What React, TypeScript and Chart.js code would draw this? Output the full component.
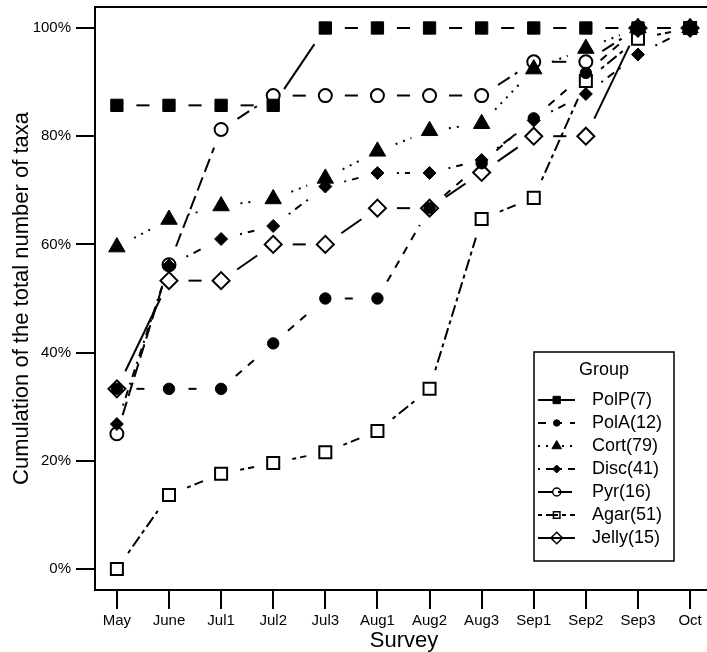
import React, { useEffect, useRef } from 'react';
import { Chart, registerables } from 'chart.js';
import { drawPoint } from 'chart.js/helpers';

Chart.register(...registerables);

// ---------- data ----------
const categories = ['May', 'June', 'Jul1', 'Jul2', 'Jul3', 'Aug1', 'Aug2', 'Aug3', 'Sep1', 'Sep2', 'Sep3', 'Oct'];
const seriesLabels = ['PolP(7)', 'PolA(12)', 'Cort(79)', 'Disc(41)', 'Pyr(16)', 'Agar(51)', 'Jelly(15)'];

const polP = [85.7, 85.7, 85.7, 85.7, 100, 100, 100, 100, 100, 100, 100, 100];
const polA = [33.3, 33.3, 33.3, 41.7, 50, 50, 66.7, 75, 83.3, 91.7, 100, 100];
const cort = [59.5, 64.6, 67.1, 68.4, 72.2, 77.2, 81.0, 82.3, 92.4, 96.2, 100, 100];
const disc = [26.8, 56.1, 61.0, 63.4, 70.7, 73.2, 73.2, 75.6, 82.9, 87.8, 95.1, 100];
const pyr = [25, 56.25, 81.25, 87.5, 87.5, 87.5, 87.5, 87.5, 93.75, 93.75, 100, 100];
const agar = [0, 13.7, 17.6, 19.6, 21.6, 25.5, 33.3, 64.7, 68.6, 90.2, 98.0, 100];
const jelly = [33.3, 53.3, 53.3, 60, 60, 66.7, 66.7, 73.3, 80, 80, 100, 100];

const yTickValues = [0, 20, 40, 60, 80, 100];
const yTickLabels = ['0%', '20%', '40%', '60%', '80%', '100%'];

const xTitle = 'Survey';
const yTitle = 'Cumulation of the total number of taxa';
const legendTitle = 'Group';

// ---------- styles ----------
const FONT = "'Liberation Sans', Arial, Helvetica, sans-serif";
const U = 2;
const DASH: Record<string, number[]> = {
  solid: [],
  dashed: [4 * U, 4 * U],
  dotted: [1 * U, 3 * U],
  dotdash: [1 * U, 3 * U, 4 * U, 3 * U],
  longdash: [7 * U, 3 * U],
  twodash: [2 * U, 2 * U, 6 * U, 2 * U],
};
const GAP = 19.5;

const seriesValues = [polP, polA, cort, disc, pyr, agar, jelly];
const seriesStyle = [
  { dash: DASH.solid, pointStyle: 'rect', radius: 8.7, filled: true, lr: 5.2 },
  { dash: DASH.dashed, pointStyle: 'circle', radius: 5.7, filled: true, lr: 3.2 },
  { dash: DASH.dotted, pointStyle: 'triangle', radius: 9.5, filled: true, lr: 5.5 },
  { dash: DASH.dotdash, pointStyle: 'rectRot', radius: 6.5, filled: true, lr: 4.0 },
  { dash: DASH.longdash, pointStyle: 'circle', radius: 6.5, filled: false, lr: 4.0 },
  { dash: DASH.twodash, pointStyle: 'rect', radius: 8.5, filled: false, lr: 4.6 },
  { dash: DASH.solid, pointStyle: 'rectRot', radius: 8.5, filled: false, lr: 5.8 },
];

// dash array for one segment: gap at both ends (like R type="b"), pattern in between
function gappedDash(pattern: number[], len: number): number[] {
  const avail = len - 2 * GAP;
  if (!(len > 0)) return [0, 1];
  if (avail <= 0) return [0, len];
  const out = [0, GAP];
  if (pattern.length === 0) {
    out.push(avail, GAP);
    return out;
  }
  let pos = 0;
  let i = 0;
  while (pos < avail - 1e-9) {
    const seg = Math.min(pattern[i % pattern.length], avail - pos);
    out.push(seg);
    pos += seg;
    i++;
  }
  if (i % 2 === 1) out.push(GAP);
  else out[out.length - 1] += GAP;
  return out;
}

const framePlugin = {
  id: 'rframe',
  afterDraw(chart: any) {
    const { ctx, chartArea: a } = chart;
    ctx.save();
    ctx.setLineDash([]);
    ctx.strokeStyle = '#000';
    ctx.lineWidth = 2;
    ctx.strokeRect(a.left, a.top, a.right - a.left, a.bottom - a.top);
    ctx.restore();
  },
};

const legendPlugin = {
  id: 'rlegend',
  afterDraw(chart: any) {
    const ctx = chart.ctx;
    const bx = 534, by = 352, bw = 140, bh = 209;
    ctx.save();
    ctx.fillStyle = '#fff';
    ctx.fillRect(bx, by, bw, bh);
    ctx.setLineDash([]);
    ctx.strokeStyle = '#000';
    ctx.lineWidth = 1.5;
    ctx.strokeRect(bx, by, bw, bh);
    ctx.fillStyle = '#000';
    ctx.font = `18px ${FONT}`;
    ctx.textBaseline = 'middle';
    ctx.textAlign = 'center';
    ctx.fillText(legendTitle, bx + bw / 2, 370);
    ctx.textAlign = 'left';
    seriesLabels.forEach((label, i) => {
      const s = seriesStyle[i];
      const y = 400 + i * 23;
      ctx.strokeStyle = '#000';
      ctx.lineWidth = 2;
      ctx.setLineDash(s.dash);
      ctx.beginPath();
      ctx.moveTo(538, y);
      ctx.lineTo(575, y);
      ctx.stroke();
      ctx.setLineDash([]);
      ctx.fillStyle = s.filled ? '#000' : 'rgba(0,0,0,0)';
      ctx.lineWidth = s.filled ? 1 : 1.5;
      drawPoint(ctx, { pointStyle: s.pointStyle, radius: s.lr, rotation: 0, borderWidth: ctx.lineWidth } as any, 556.7, y);
      ctx.fillStyle = '#000';
      ctx.fillText(label, 592, y);
    });
    ctx.restore();
  },
};

export default function App() {
  const ref = useRef<HTMLCanvasElement>(null);

  useEffect(() => {
    if (!ref.current) return;
    Chart.defaults.font.family = FONT;
    Chart.defaults.color = '#000';

    const n = seriesLabels.length;
    const datasets = seriesLabels.map((label, i) => {
      const s = seriesStyle[i];
      return {
        label,
        data: seriesValues[i].map((v, j) => ({ x: j, y: v })),
        borderColor: '#000',
        borderWidth: 2,
        tension: 0,
        fill: false,
        order: n - i,
        pointStyle: s.pointStyle,
        pointRadius: s.radius,
        pointHoverRadius: s.radius,
        pointBackgroundColor: s.filled ? '#000' : 'rgba(0,0,0,0)',
        pointBorderColor: '#000',
        pointBorderWidth: s.filled ? 1 : 2,
        segment: {
          borderDash: (c: any) => gappedDash(s.dash, Math.hypot(c.p1.x - c.p0.x, c.p1.y - c.p0.y)),
        },
      };
    });

    const chart = new Chart(ref.current, {
      type: 'line',
      data: { datasets } as any,
      options: {
        responsive: false,
        animation: false,
        events: [],
        devicePixelRatio: 1,
        layout: { autoPadding: false, padding: { top: 7, left: 0, right: 0, bottom: 0 } },
        plugins: { legend: { display: false }, tooltip: { enabled: false }, title: { display: false } },
        scales: {
          x: {
            type: 'linear',
            min: -0.42,
            max: 11.44,
            afterBuildTicks: (sc: any) => {
              sc.ticks = categories.map((_, i) => ({ value: i }));
            },
            afterFit: (sc: any) => {
              sc.height = 70;
              sc.paddingLeft = 0;
              sc.paddingRight = 0;
            },
            ticks: {
              callback: (v: any) => categories[Math.round(Number(v))],
              autoSkip: false,
              maxRotation: 0,
              minRotation: 0,
              padding: 3,
              color: '#000',
              font: { size: 15, family: FONT },
            },
            grid: { drawOnChartArea: false, drawTicks: true, tickLength: 19, color: '#000', lineWidth: 2 },
            border: { display: true, color: '#000', width: 2 },
            title: {
              display: true,
              text: xTitle,
              color: '#000',
              font: { size: 22, family: FONT },
              padding: { top: 0, bottom: 6 },
            },
          },
          y: {
            type: 'linear',
            min: -3.88,
            max: 103.88,
            afterBuildTicks: (sc: any) => {
              sc.ticks = yTickValues.map((v) => ({ value: v }));
            },
            afterFit: (sc: any) => {
              sc.width = 95;
              sc.paddingTop = 0;
              sc.paddingBottom = 0;
            },
            ticks: {
              callback: (v: any) => yTickLabels[yTickValues.indexOf(Number(v))],
              padding: 5,
              color: '#000',
              font: { size: 15, family: FONT },
            },
            grid: { drawOnChartArea: false, drawTicks: true, tickLength: 19, color: '#000', lineWidth: 2 },
            border: { display: true, color: '#000', width: 2 },
            title: {
              display: true,
              text: yTitle,
              color: '#000',
              font: { size: 22, family: FONT },
              padding: { top: 9, bottom: 0 },
            },
          },
        },
      } as any,
      plugins: [framePlugin, legendPlugin],
    });
    return () => chart.destroy();
  }, []);

  return (
    <div style={{ position: 'fixed', left: 0, top: 0, width: 707, height: 652, overflow: 'hidden', background: '#fff' }}>
      <canvas ref={ref} width={713} height={660} style={{ display: 'block', width: 713, height: 660 }} />
    </div>
  );
}
